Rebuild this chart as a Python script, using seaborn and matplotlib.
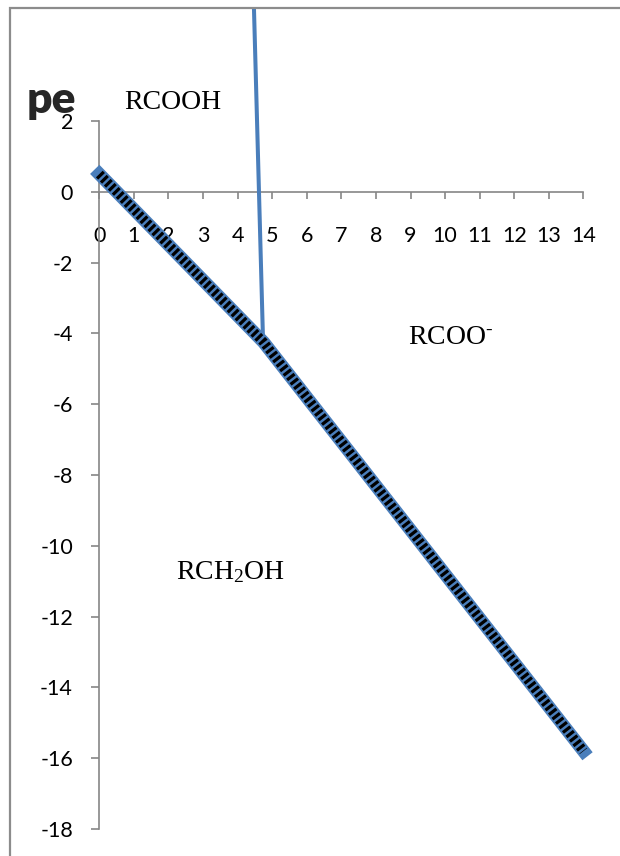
import matplotlib
matplotlib.use("Agg")
import matplotlib.pyplot as plt
import pandas as pd
import seaborn as sns
from matplotlib.patches import Rectangle

# boundary RCOOH|RCOO- / RCH2OH (pe vs pH)
boundary_ph = [0.0, 4.75, 14.0]
boundary_pe = [0.5, -4.25, -15.8]

# RCOOH / RCOO- boundary (pKa line)
acid_ph = [4.46, 4.73]
acid_pe = [5.6, -4.05]

species = ["RCOOH", r"RCOO$^{\text{-}}$", "RCH$_2$OH"]
species_ph = [2.12, 10.17, 3.78]
species_pe = [2.33, -4.29, -10.93]

x_ticks = list(range(0, 15))
y_ticks = list(range(-18, 3, 2))

LINE_BLUE = "#4A7EBB"
AXIS_GREY = "#868686"


def main() -> None:
    sns.set_theme(style="white")
    plt.rcParams["font.family"] = ["Lato", "DejaVu Sans"]
    plt.rcParams["axes.unicode_minus"] = False
    plt.rcParams["mathtext.fontset"] = "custom"
    plt.rcParams["mathtext.rm"] = "Liberation Serif"
    plt.rcParams["mathtext.it"] = "Liberation Serif:italic"

    fig = plt.figure(figsize=(6.2, 8.56), dpi=100)
    ax = fig.add_axes([99.3 / 620, 27 / 856, 484.2 / 620, 821 / 856])

    acid = pd.DataFrame({"pH": acid_ph, "pe": acid_pe})
    boundary = pd.DataFrame({"pH": boundary_ph, "pe": boundary_pe})

    sns.lineplot(data=acid, x="pH", y="pe", ax=ax, sort=False,
                 color=LINE_BLUE, linewidth=2.9, zorder=3)
    sns.lineplot(data=boundary, x="pH", y="pe", ax=ax, sort=False,
                 color=LINE_BLUE, linewidth=9.4, solid_capstyle="projecting",
                 clip_on=False, zorder=4)
    sns.lineplot(data=boundary, x="pH", y="pe", ax=ax, sort=False,
                 color="black", linewidth=6.8, linestyle=(0, (0.34, 0.26)),
                 dash_capstyle="butt", clip_on=False, zorder=5)

    for name, px, py in zip(species, species_ph, species_pe):
        ax.text(px, py, name, ha="center", va="baseline", fontsize=20,
                family="Liberation Serif", color="black")

    ax.set_xlim(0, 14)
    ax.set_ylim(-18, 5.19)
    ax.set_xticks(x_ticks)
    ax.set_yticks(y_ticks)
    ax.set_xlabel("")
    ax.set_ylabel("pe", rotation=0, fontsize=32, fontweight="heavy",
                  ha="center", va="baseline")
    ax.yaxis.set_label_coords(-0.0998, 0.872)

    for side in ("top", "right"):
        ax.spines[side].set_visible(False)
    ax.spines["bottom"].set_position(("data", 0))
    ax.spines["bottom"].set_bounds(0, 14)
    ax.spines["left"].set_bounds(-18, 2)
    for side in ("bottom", "left"):
        ax.spines[side].set_color(AXIS_GREY)
        ax.spines[side].set_linewidth(1.2)

    ax.tick_params(axis="x", direction="out", length=5, width=1.2,
                   color=AXIS_GREY, pad=20, labelsize=15.5, labelcolor="black")
    ax.tick_params(axis="y", direction="out", length=6, width=1.2,
                   color=AXIS_GREY, pad=13, labelsize=15.5, labelcolor="black")
    ax.tick_params(bottom=True, left=True)
    ax.grid(False)
    ax.patch.set_alpha(0)

    # chart area border (only left and top edges fall inside the image)
    fig.patches.append(Rectangle((10 / 620, -0.1), 1.2, 0.1 + 848 / 856,
                                 transform=fig.transFigure, fill=False,
                                 edgecolor="#8c8c8c", linewidth=1.6, zorder=0))

    fig.savefig("out.png", dpi=100)
    plt.close(fig)


if __name__ == "__main__":
    main()
